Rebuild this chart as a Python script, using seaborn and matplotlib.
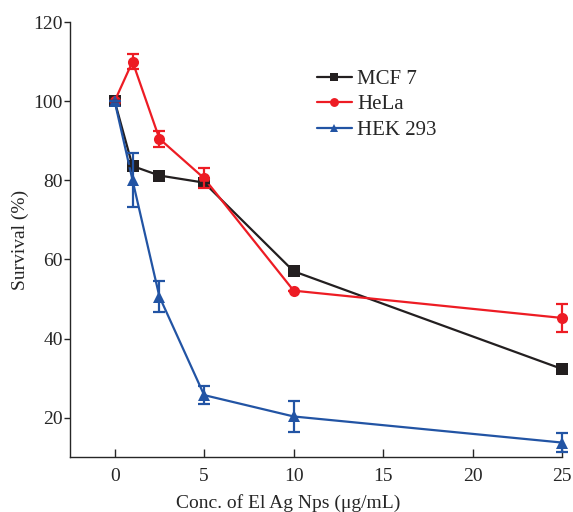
import pandas as pd
import seaborn as sns
import matplotlib.pyplot as plt

sns.set_style("ticks")
plt.rcParams['font.family'] = ['Liberation Serif', 'DejaVu Serif']

# data
conc = [0, 1, 2.5, 5, 10, 25]
mcf7 = [100, 83.6, 81.2, 79.4, 57.0, 32.3]
mcf7_err = [0, 0, 0, 0, 0, 0]
hela = [100, 110.0, 90.5, 80.5, 52.1, 45.2]
hela_err = [0, 2.0, 2.0, 2.5, 0, 3.5]
hek = [100, 80.0, 50.6, 25.7, 20.3, 13.7]
hek_err = [0, 6.8, 4.0, 2.3, 4.0, 2.5]

names = ['MCF 7', 'HeLa', 'HEK 293']
colors = ['#231f20', '#ed1c24', '#2254a4']
markers = ['s', 'o', '^']

df = pd.concat([
    pd.DataFrame({'conc': conc, 'surv': v, 'err': e, 'line': n})
    for v, e, n in zip([mcf7, hela, hek], [mcf7_err, hela_err, hek_err], names)
])

fig = plt.figure(figsize=(5.73, 5.12), dpi=100)
ax = fig.add_axes([0.122, 0.107, 0.859, 0.85])

sns.lineplot(data=df, x='conc', y='surv', hue='line', style='line',
             palette=colors, markers=markers, dashes=False, markersize=8,
             markeredgewidth=0, linewidth=1.6, clip_on=False, ax=ax)

for (n, g), c in zip(df.groupby('line', sort=False), colors):
    ax.errorbar(g['conc'], g['surv'], yerr=g['err'], fmt='none', ecolor=c,
                elinewidth=1.6, capsize=4, capthick=1.6, clip_on=False)

ax.set_xlim(-2.5, 25)
ax.set_ylim(10, 120)
ax.set_xticks([0, 5, 10, 15, 20, 25])
ax.set_yticks([20, 40, 60, 80, 100, 120])
ax.tick_params(axis='x', direction='in', length=6, width=1, labelsize=14, pad=8)
ax.tick_params(axis='y', direction='out', length=4, width=1, labelsize=14, pad=1)
sns.despine(ax=ax)
for s in ['left', 'bottom']:
    ax.spines[s].set_linewidth(1)
ax.set_xlabel('Conc. of El Ag Nps (μg/mL)', fontsize=14, labelpad=2)
ax.xaxis.set_label_coords(0.443, -0.085)
ax.set_ylabel('Survival (%)', fontsize=14, labelpad=3)

leg = ax.legend(frameon=False, fontsize=15, loc='upper left',
                bbox_to_anchor=(0.463, 0.934), handlelength=1.7,
                handletextpad=0.25, labelspacing=0.28, markerscale=0.8)
leg.set_title(None)

fig.savefig('out.png', dpi=100)
